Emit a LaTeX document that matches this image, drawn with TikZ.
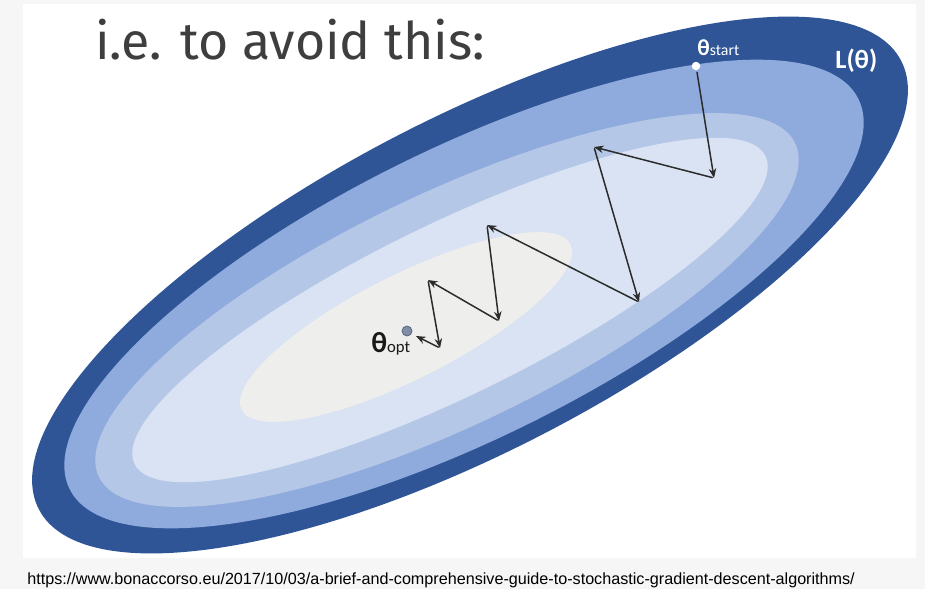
\documentclass[tikz,border=0pt]{standalone}
\usepackage{fontspec}
\setmainfont{Fira Sans}
\newfontfamily\calfont{Carlito}
\newfontfamily\urlfont{Liberation Sans}
\usetikzlibrary{arrows.meta}
\definecolor{lossdark}{HTML}{2F5597}
\definecolor{lossmid}{HTML}{8FAADC}
\definecolor{losslight}{HTML}{B4C7E7}
\definecolor{losspale}{HTML}{DAE3F3}
\definecolor{losscore}{HTML}{EEEEEC}
\definecolor{slidegray}{HTML}{F6F6F6}
\definecolor{titlegray}{HTML}{3E3E3E}
\definecolor{stepgray}{HTML}{2B2B2B}
\definecolor{optfill}{HTML}{7F8DA6}
\definecolor{optrim}{HTML}{4F5F78}

\begin{document}
\begin{tikzpicture}[x=0.02cm,y=-0.02cm,>={Stealth[length=1.9mm,width=1.5mm]},line cap=round,
  descent/.style={->,draw=stepgray,line width=0.85pt,shorten <=1pt},
  thetadot/.style={circle,inner sep=0pt,minimum size=0.17cm},
  contour/.style={font=\calfont\bfseries\fontsize{15}{17}\selectfont,text=white,inner sep=0pt}]
\useasboundingbox (0,0) rectangle (925,589);
\fill[slidegray] (0,0) rectangle (925,589);
\fill[white] (23,4) rectangle (916,558);
% level sets of the loss
\fill[lossdark,rotate around={27.5:(470,285)}] (470,285) ellipse (486 and 166);
\fill[lossmid,rotate around={26.3:(464,294)}] (464,294) ellipse (440 and 145);
\fill[losslight,rotate around={25.6:(447,310)}] (447,310) ellipse (386 and 116);
\fill[losspale,rotate around={26:(450,310)}] (450,310) ellipse (351 and 86);
\fill[losscore,rotate around={26.7:(406,327)}] (406,327) ellipse (184 and 52);
% title and source
\node[anchor=base west,inner sep=0pt,text=titlegray,font=\fontsize{29.5}{34}\selectfont] (title) at (95,59) {i.e. to avoid this:};
\node[anchor=base west,inner sep=0pt,font=\urlfont\fontsize{9.2}{11}\selectfont] (source) at (27,584) {https://www.bonaccorso.eu/2017/10/03/a-brief-and-comprehensive-guide-to-stochastic-gradient-descent-algorithms/};
% start and optimum
\node[thetadot,fill=white] (start) at (696,66) {};
\node[thetadot,fill=optfill,draw=optrim,line width=0.4pt,minimum size=0.2cm] (opt) at (407,331) {};
\node[anchor=base west,inner sep=0pt,text=white,font=\calfont] (startlab) at (697,55) {{\bfseries\fontsize{13}{15}\selectfont θ}{\fontsize{9}{11}\selectfont start}};
\node[contour,anchor=base west] (losslab) at (835,68) {L(θ)};
\node[anchor=base west,inner sep=0pt,text=black!90,font=\calfont] (optlab) at (371,352) {{\bfseries\fontsize{16.5}{18}\selectfont θ}{\fontsize{9.5}{11}\selectfont opt}};
% zig-zag of the steps
\coordinate (s1) at (714,178);
\coordinate (s2) at (594,147);
\coordinate (s3) at (639,302);
\coordinate (s4) at (487,225);
\coordinate (s5) at (499,321);
\coordinate (s6) at (428,280);
\coordinate (s7) at (440,348);
\coordinate (s8) at (416,336);
\draw[descent] (start) -- (s1);
\draw[descent] (s1) -- (s2);
\draw[descent] (s2) -- (s3);
\draw[descent] (s3) -- (s4);
\draw[descent] (s4) -- (s5);
\draw[descent] (s5) -- (s6);
\draw[descent] (s6) -- (s7);
\draw[descent] (s7) -- (s8);
\end{tikzpicture}
\end{document}
